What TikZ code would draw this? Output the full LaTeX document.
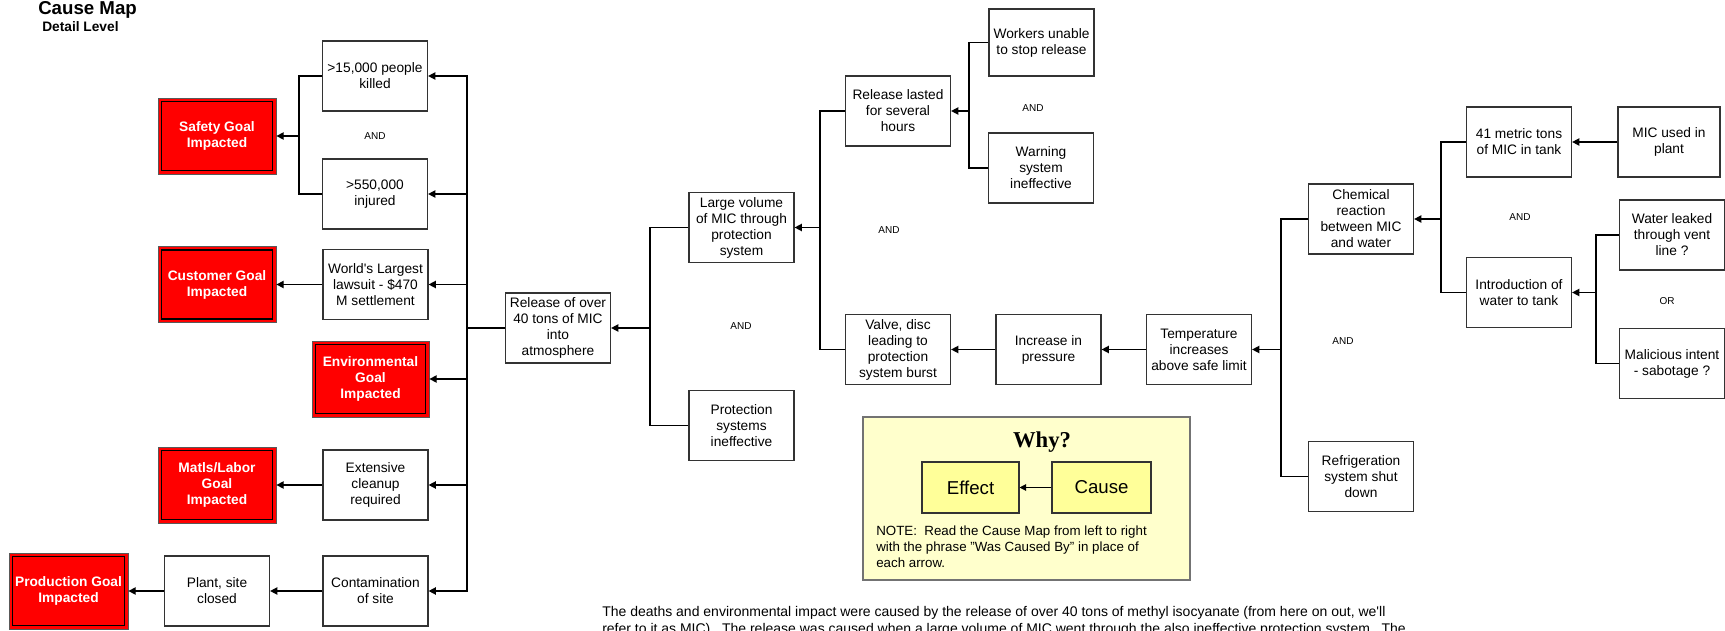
\documentclass[tikz,border=0pt]{standalone}
\usepackage{fontspec}
\setmainfont{Liberation Sans}
\newfontfamily\whyfont{Liberation Serif}
\usetikzlibrary{arrows.meta}
\definecolor{boxline}{HTML}{333333}
\definecolor{goalred}{HTML}{FF0000}
\definecolor{legendfill}{HTML}{FFFFCC}
\definecolor{legendbox}{HTML}{FFFF99}
\begin{document}
\begin{tikzpicture}[x=0.75pt,y=-0.75pt,
  every node/.style={font=\fontsize{10.3}{12}\selectfont},
  box/.style={draw=boxline, line width=0.9pt, fill=white, minimum width=78.75pt, minimum height=52.5pt, align=center, inner sep=0pt},
  goal/.style={draw=black!65, line width=0.6pt, fill=goalred, minimum width=88.5pt, minimum height=57pt, align=center, inner sep=0pt, text=white, font=\fontsize{10.3}{12}\selectfont\bfseries,
    path picture={\draw[black, line width=0.9pt] ([shift={(2.6pt,-2.6pt)}]path picture bounding box.north west) rectangle ([shift={(-2.6pt,2.6pt)}]path picture bounding box.south east);}},
  conn/.style={draw=black, line width=1.1pt},
  arr/.style={conn, -{Triangle[length=5.5pt,width=5.5pt]}},
  andlbl/.style={font=\fontsize{7.5}{9}\selectfont, inner sep=0pt}
]
\useasboundingbox (0,0) rectangle (1725,631);

% title
\node[anchor=base west, inner sep=0pt, font=\fontsize{14}{16}\selectfont\bfseries] (title) at (38,15) {Cause Map};
\node[anchor=base west, inner sep=0pt, font=\fontsize{10.3}{12}\selectfont\bfseries] (sub) at (42,32) {Detail Level};

% left column boxes
\node[box] (killed) at (375,76) {>15,000 people\\killed};
\node[box] (injured) at (375,194) {>550,000\\injured};
\node[box] (lawsuit) at (375.5,284.5) {World\textquotesingle s Largest\\lawsuit - \$470\\M settlement};
\node[goal, minimum width=87.75pt] (env) at (370.5,379) {Environmental\\Goal\\Impacted};
\node[box] (cleanup) at (375.5,485) {Extensive\\cleanup\\required};
\node[box] (contam) at (375.5,591) {Contamination\\of site};
\node[box] (plant) at (217,591) {Plant, site\\closed};
\node[goal, minimum width=89.25pt] (prod) at (68.5,591) {Production Goal\\Impacted};
\node[goal] (safety) at (217,136) {Safety Goal\\Impacted};
\node[goal] (customer) at (217,284.5) {Customer Goal\\Impacted};
\node[goal] (matls) at (217,485) {Matls/Labor\\Goal\\Impacted};

% middle
\node[box] (rel) at (558,328) {Release of over\\40 tons of MIC\\into\\atmosphere};
\node[box] (large) at (741.5,227.5) {Large volume\\of MIC through\\protection\\system};
\node[box] (prot) at (741.5,425.5) {Protection\\systems\\ineffective};
\node[box] (lasted) at (898,111) {Release lasted\\for several\\hours};
\node[box] (valve) at (898,349.5) {Valve, disc\\leading to\\protection\\system burst};
\node[box, minimum height=50.25pt] (workers) at (1041.5,42.5) {Workers unable\\to stop release};
\node[box] (warning) at (1041,168) {Warning\\system\\ineffective};
\node[box] (press) at (1048.5,349.5) {Increase in\\pressure};
\node[box] (temp) at (1199,349.5) {Temperature\\increases\\above safe limit};

% right
\node[box] (chem) at (1361,219) {Chemical\\reaction\\between MIC\\and water};
\node[box] (refrig) at (1361,476.5) {Refrigeration\\system shut\\down};
\node[box] (tons) at (1519,142) {41 metric tons\\of MIC in tank};
\node[box] (intro) at (1519,292.5) {Introduction of\\water to tank};
\node[box, minimum width=76.5pt] (micused) at (1669,142) {MIC used in\\plant};
\node[box] (water) at (1672,235) {Water leaked\\through vent\\line ?};
\node[box] (malic) at (1672,363.5) {Malicious intent\\- sabotage ?};

% connectors left
\coordinate (jA) at (299,136);
\draw[conn] (killed) -| (jA) |- (injured);
\draw[arr] (jA) -- (safety);
\coordinate (s0) at (467,328);
\draw[conn] (rel) -- (s0);
\foreach \t in {killed,injured,lawsuit,env,cleanup,contam} \draw[arr] (s0) |- (\t);
\draw[arr] (lawsuit) -- (customer);
\draw[arr] (cleanup) -- (matls);
\draw[arr] (contam) -- (plant);
\draw[arr] (plant) -- (prod);

% connectors middle
\coordinate (jB) at (650,328);
\draw[conn] (large) -| (jB) |- (prot);
\draw[arr] (jB) -- (rel);
\coordinate (jC) at (820,227.5);
\draw[conn] (lasted) -| (jC) |- (valve);
\draw[arr] (jC) -- (large);
\coordinate (jD) at (969,111);
\draw[conn] (workers) -| (jD) |- (warning);
\draw[arr] (jD) -- (lasted);
\draw[arr] (press) -- (valve);
\draw[arr] (temp) -- (press);

% connectors right
\coordinate (jE) at (1281,349.5);
\draw[conn] (chem) -| (jE) |- (refrig);
\draw[arr] (jE) -- (temp);
\coordinate (jF) at (1441,219);
\draw[conn] (tons) -| (jF) |- (intro);
\draw[arr] (jF) -- (chem);
\draw[arr] (micused) -- (tons);
\coordinate (jG) at (1596,292.5);
\draw[conn] (water) -| (jG) |- (malic);
\draw[arr] (jG) -- (intro);

% AND / OR labels
\node[andlbl] (and1) at (375,136) {AND};
\node[andlbl] (and2) at (741,326) {AND};
\node[andlbl] (and3) at (1033,108) {AND};
\node[andlbl] (and4) at (889,230) {AND};
\node[andlbl] (and5) at (1343,341) {AND};
\node[andlbl] (and6) at (1520,217) {AND};
\node[andlbl] (or1) at (1667,301) {OR};

% legend
\node[draw=black!55, line width=0.8pt, fill=legendfill, minimum width=245.25pt, minimum height=122.25pt, inner sep=0pt] (legend) at (1026.5,498.5) {};
\node[font=\whyfont\fontsize{17}{20}\selectfont\bfseries, inner sep=0pt] (why) at (1042,442) {Why?};
\node[draw=boxline, line width=0.8pt, fill=legendbox, minimum width=72.75pt, minimum height=38.25pt, inner sep=0pt, font=\fontsize{14}{16}\selectfont] (effect) at (970.5,487.5) {Effect};
\node[draw=boxline, line width=0.8pt, fill=legendbox, minimum width=74.25pt, minimum height=38.25pt, inner sep=0pt, font=\fontsize{14}{16}\selectfont] (cause) at (1101.5,487.5) {Cause};
\draw[conn, line width=0.9pt, -{Triangle[length=5pt,width=5pt]}] (cause) -- (effect);
\node[anchor=north west, inner sep=0pt, align=left, font=\fontsize{10}{11.8}\selectfont] (note) at (876,526) {NOTE:\ \ Read the Cause Map from left to right\\with the phrase "Was Caused By" in place of\\each arrow.};

% bottom paragraph (second line runs off the lower edge, as in the reference)
\node[anchor=north west, inner sep=0pt, align=left, font=\fontsize{10.5}{13}\selectfont] (para) at (602,606) {The deaths and environmental impact were caused by the release of over 40 tons of methyl isocyanate (from here on out, we\textquotesingle ll\\refer to it as MIC).\ \ The release was caused when a large volume of MIC went through the also ineffective protection system.\ \ The};
\end{tikzpicture}
\end{document}
